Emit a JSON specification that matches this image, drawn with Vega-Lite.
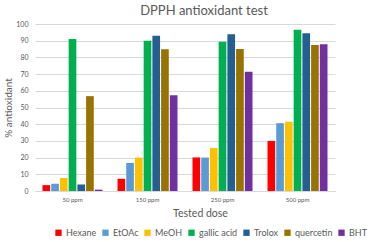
{
  "$schema": "https://vega.github.io/schema/vega-lite/v6.json",
  "autosize": "none",
  "width": 338,
  "height": 167,
  "padding": {"left": 35, "top": 24, "right": 6, "bottom": 51},
  "background": "white",
  "config": {
    "font": "Lato",
    "view": {"stroke": null}
  },
  "title": {
    "text": "DPPH antioxidant test",
    "anchor": "middle",
    "fontSize": 13,
    "fontWeight": "normal",
    "color": "#595959",
    "offset": 2
  },
  "data": {
    "values": [
      {"dose": "50 ppm", "sample": "Hexane", "value": 3.5},
      {"dose": "50 ppm", "sample": "EtOAc", "value": 4.3},
      {"dose": "50 ppm", "sample": "MeOH", "value": 7.8},
      {"dose": "50 ppm", "sample": "gallic acid", "value": 91},
      {"dose": "50 ppm", "sample": "Trolox", "value": 3.9},
      {"dose": "50 ppm", "sample": "quercetin", "value": 56.8},
      {"dose": "50 ppm", "sample": "BHT", "value": 0.8},
      {"dose": "150 ppm", "sample": "Hexane", "value": 7.3},
      {"dose": "150 ppm", "sample": "EtOAc", "value": 16.8},
      {"dose": "150 ppm", "sample": "MeOH", "value": 20},
      {"dose": "150 ppm", "sample": "gallic acid", "value": 90},
      {"dose": "150 ppm", "sample": "Trolox", "value": 92.9},
      {"dose": "150 ppm", "sample": "quercetin", "value": 84.9},
      {"dose": "150 ppm", "sample": "BHT", "value": 57.3},
      {"dose": "250 ppm", "sample": "Hexane", "value": 20.1},
      {"dose": "250 ppm", "sample": "EtOAc", "value": 20},
      {"dose": "250 ppm", "sample": "MeOH", "value": 25.7},
      {"dose": "250 ppm", "sample": "gallic acid", "value": 89.4},
      {"dose": "250 ppm", "sample": "Trolox", "value": 93.8},
      {"dose": "250 ppm", "sample": "quercetin", "value": 85},
      {"dose": "250 ppm", "sample": "BHT", "value": 71.4},
      {"dose": "500 ppm", "sample": "Hexane", "value": 30},
      {"dose": "500 ppm", "sample": "EtOAc", "value": 40.6},
      {"dose": "500 ppm", "sample": "MeOH", "value": 41.5},
      {"dose": "500 ppm", "sample": "gallic acid", "value": 96.5},
      {"dose": "500 ppm", "sample": "Trolox", "value": 94.4},
      {"dose": "500 ppm", "sample": "quercetin", "value": 87.4},
      {"dose": "500 ppm", "sample": "BHT", "value": 87.8}
    ]
  },
  "mark": {"type": "bar"},
  "encoding": {
    "x": {
      "field": "dose",
      "type": "nominal",
      "sort": ["50 ppm", "150 ppm", "250 ppm", "500 ppm"],
      "scale": {"range": [0, 300], "paddingInner": 0.2, "paddingOuter": 0.1},
      "axis": {
        "title": "Tested dose",
        "titleFontSize": 10.5,
        "titleFontWeight": "normal",
        "titleColor": "#595959",
        "titlePadding": 6,
        "titleX": 165,
        "labelAngle": 0,
        "labelFontSize": 6,
        "labelColor": "#595959",
        "labelPadding": 5,
        "ticks": false,
        "domainColor": "#d9d9d9"
      }
    },
    "xOffset": {
      "field": "sample",
      "type": "nominal",
      "sort": ["Hexane", "EtOAc", "MeOH", "gallic acid", "Trolox", "quercetin", "BHT"],
      "scale": {"paddingInner": 0.12, "paddingOuter": 0}
    },
    "y": {
      "field": "value",
      "type": "quantitative",
      "scale": {"domain": [0, 100]},
      "axis": {
        "title": "% antioxidant",
        "titleFontSize": 10,
        "titleFontWeight": "normal",
        "titleColor": "#595959",
        "titlePadding": 2,
        "values": [0, 10, 20, 30, 40, 50, 60, 70, 80, 90, 100],
        "labelOverlap": false,
        "labelFontSize": 7,
        "labelColor": "#595959",
        "labelPadding": 7,
        "ticks": false,
        "domain": false,
        "gridColor": "#d9d9d9"
      }
    },
    "color": {
      "field": "sample",
      "type": "nominal",
      "sort": ["Hexane", "EtOAc", "MeOH", "gallic acid", "Trolox", "quercetin", "BHT"],
      "scale": {
        "domain": ["Hexane", "EtOAc", "MeOH", "gallic acid", "Trolox", "quercetin", "BHT"],
        "range": ["#FF0000", "#5B9BD5", "#FFC000", "#00B050", "#255E91", "#997300", "#7030A0"]
      },
      "legend": {
        "title": null,
        "orient": "none",
        "direction": "horizontal",
        "legendX": 19,
        "legendY": 204,
        "symbolType": "square",
        "symbolSize": 40,
        "symbolStrokeWidth": 0,
        "labelFontSize": 9,
        "labelColor": "#595959",
        "labelOffset": 3,
        "columnPadding": 4
      }
    }
  }
}
